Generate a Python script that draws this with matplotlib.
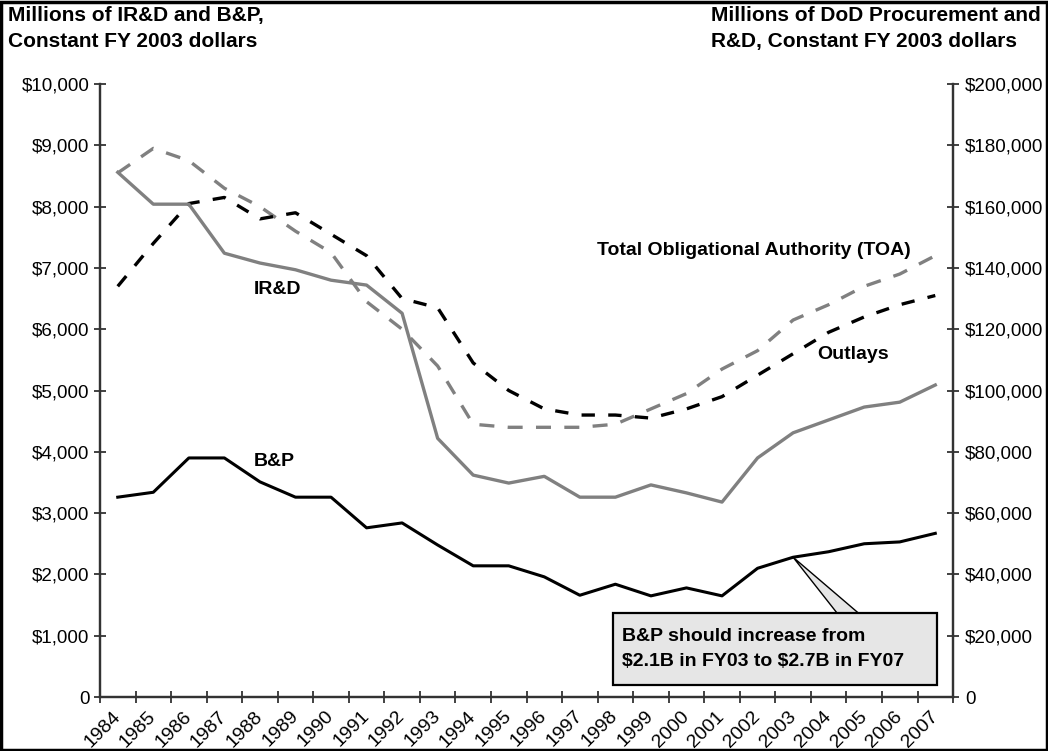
import matplotlib
matplotlib.use('Agg')
import matplotlib.pyplot as plt
import matplotlib.transforms as mtransforms
from matplotlib.patches import Rectangle, Polygon
from matplotlib.ticker import FuncFormatter

years = list(range(1984, 2008))

# millions, constant FY2003 dollars (left axis)
ird = [8560, 8040, 8040, 7240, 7080, 6970, 6800, 6720, 6260, 4220, 3620, 3490,
       3600, 3260, 3260, 3460, 3330, 3180, 3900, 4310, 4520, 4730, 4810, 5090]
bp = [3260, 3340, 3900, 3900, 3510, 3260, 3260, 2760, 2840, 2480, 2140, 2140,
      1960, 1660, 1840, 1650, 1780, 1650, 2100, 2280, 2370, 2500, 2530, 2670]

# DoD procurement and R&D (right axis)
toa = [171000, 179000, 175000, 166000, 160000, 152000, 145000, 129000, 120000, 108000,
       89000, 88000, 88000, 88000, 89000, 94000, 99000, 107000, 113000, 123000,
       128000, 134000, 138000, 144000]
outlays = [134000, 148000, 161000, 163000, 156000, 158000, 151000, 144000, 130000, 127000,
           109000, 100000, 94000, 92000, 92000, 91000, 94000, 98000, 105000, 112000,
           119000, 124000, 128000, 131000]

narrow = ['Liberation Sans Narrow', 'Liberation Sans', 'DejaVu Sans']
plt.rcParams['font.family'] = ['Liberation Sans', 'DejaVu Sans']

fig = plt.figure(figsize=(10.48, 7.51), dpi=100)
ax = fig.add_axes([0.0954, 0.0719, 0.8140, 0.8162])
ax2 = ax.twinx()

x = list(range(len(years)))
ax2.plot(x, toa, color='#808080', lw=2.4, ls=(0, (4.5, 4.0)))
ax2.plot(x, outlays, color='black', lw=2.4, ls=(0, (4.0, 4.0)))
ax.plot(x, ird, color='#808080', lw=2.4)
ax.plot(x, bp, color='black', lw=2.2)
ax.set_zorder(ax2.get_zorder() + 1)
ax.patch.set_visible(False)

ax.set_xlim(-0.5, len(years) - 0.5)
ax.set_ylim(0, 10000)
ax2.set_ylim(0, 200000)
ax.set_yticks(range(0, 10001, 1000))
ax2.set_yticks(range(0, 200001, 20000))
money = FuncFormatter(lambda v, p: '0' if v == 0 else '${:,.0f}'.format(v))
ax.yaxis.set_major_formatter(money)
ax2.yaxis.set_major_formatter(money)

# category axis: ticks on boundaries, labels at centers
ax.set_xticks([i - 0.5 for i in range(len(years) + 1)])
ax.set_xticklabels([])
ax.set_xticks(x, minor=True)
ax.set_xticklabels([str(y) for y in years], minor=True, rotation=45,
                   ha='right', va='center', rotation_mode='anchor', fontsize=14)
shift = mtransforms.ScaledTranslation(-4 / 72, 0, fig.dpi_scale_trans)
for t in ax.get_xticklabels(minor=True):
    t.set_transform(t.get_transform() + shift)
ax.tick_params(axis='x', which='minor', length=0, pad=12)
ax.tick_params(axis='x', which='major', direction='inout', length=8, width=1.3, color='#333333')
ax.tick_params(axis='y', direction='inout', length=9, width=1.3, color='#333333',
               labelsize=13.5, pad=3)
ax2.tick_params(axis='y', direction='inout', length=9, width=1.3, color='#333333',
                labelsize=13.5, pad=4)

for a in (ax, ax2):
    a.spines['top'].set_visible(False)
    for s in ('left', 'right', 'bottom'):
        a.spines[s].set_linewidth(1.6)
        a.spines[s].set_color('#333333')

# series labels
lab = dict(family=narrow, fontweight='bold', fontsize=14, ha='center', va='center')
ax.text(4.5, 6640, 'IR&D', **lab)
ax.text(4.4, 3850, 'B&P', **lab)
ax.text(17.9, 7290, 'Total Obligational Authority (TOA)', **lab)
ax.text(20.7, 5580, 'Outlays', **lab)

# axis titles
fig.text(0.008, 0.992, 'Millions of IR&D and B&P,\nConstant FY 2003 dollars',
         family=narrow, fontweight='bold', fontsize=15, ha='left', va='top', linespacing=1.45)
fig.text(0.993, 0.992, 'Millions of DoD Procurement and\nR&D, Constant FY 2003 dollars',
         family=narrow, fontweight='bold', fontsize=15, ha='right', va='top',
         multialignment='left', linespacing=1.45)

# callout box
fig.canvas.draw()
i03 = years.index(2003)
tip = ax.transAxes.inverted().transform(ax.transData.transform((i03, bp[i03])))
ax.add_patch(Polygon([(0.864, 0.137), tip, (0.889, 0.137)], closed=False,
                     transform=ax.transAxes, facecolor='#e6e6e6', edgecolor='black',
                     lw=1.0, zorder=5))
ax.add_patch(Rectangle((0.601, 0.0196), 0.380, 0.1174, transform=ax.transAxes,
                       facecolor='#e6e6e6', edgecolor='black', lw=1.6, zorder=6))
ax.text(0.612, 0.078, 'B&P should increase from\n\\$2.1B in FY03 to \\$2.7B in FY07',
        transform=ax.transAxes, family=narrow, fontweight='bold', fontsize=14,
        ha='left', va='center', linespacing=1.6, zorder=7)

fig.patches.append(Rectangle((0.001, 0.001), 0.998, 0.997, transform=fig.transFigure,
                             fill=False, edgecolor='black', lw=2.5))

fig.savefig('out.png', dpi=100)
